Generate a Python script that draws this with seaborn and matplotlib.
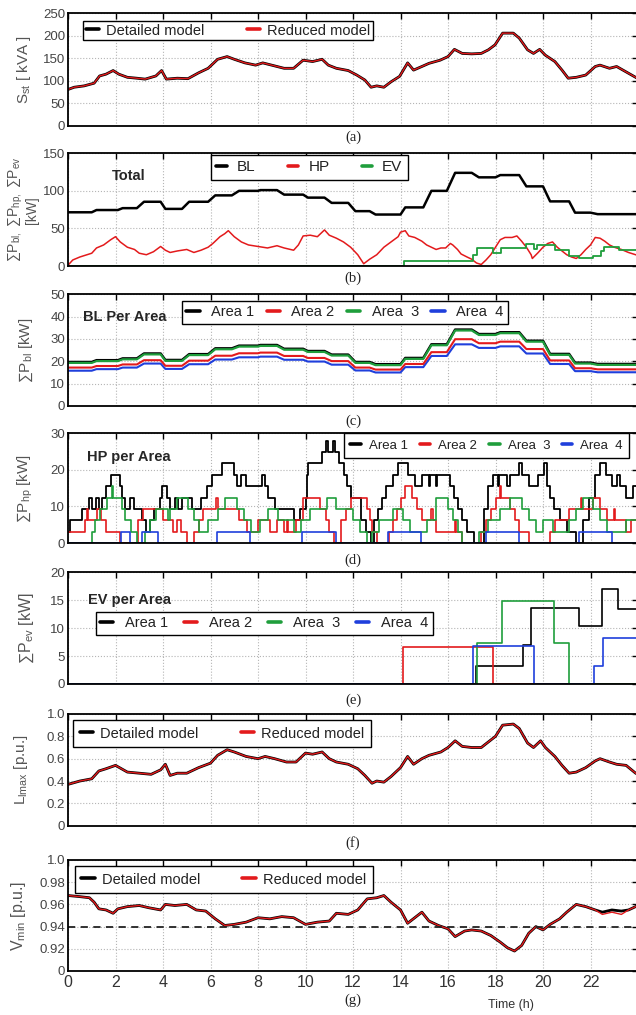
import matplotlib
matplotlib.use("Agg")
import matplotlib.pyplot as plt
import seaborn as sns
from matplotlib.lines import Line2D

# ---------------------------------------------------------------- data
hours_ticks = [0, 2, 4, 6, 8, 10, 12, 14, 16, 18, 20, 22, 24]
hours_labels = ["0", "2", "4", "6", "8", "10", "12", "14", "16", "18", "20", "22", ""]

# (a) substation apparent power [kVA]
s_t = [0, 0.26, 0.68, 1.1, 1.33, 1.6, 1.9, 2.14, 2.5, 2.9,
       3.25, 3.7, 3.94, 4.14, 4.6, 5.05, 5.5, 5.9, 6.3, 6.7,
       7.0, 7.45, 7.9, 8.2, 8.65, 9.1, 9.5, 9.9, 10.3, 10.7,
       10.96, 11.3, 11.8, 12.16, 12.5, 12.76, 13.0, 13.3, 13.6, 13.96,
       14.3, 14.55, 14.9, 15.2, 15.67, 16.0, 16.27, 16.6, 17.0, 17.4,
       17.7, 17.98, 18.3, 18.75, 19.0, 19.35, 19.6, 19.86, 20.1, 20.5,
       20.8, 21.06, 21.4, 21.8, 22.2, 22.4, 22.8, 23.1, 23.5, 23.9, 24.0]
s_reduced = [81, 86, 89, 95, 111, 115, 123, 115, 108, 106,
             104, 111, 123, 104, 106, 105, 118, 128, 148, 154,
             148, 140, 135, 140, 134, 128, 128, 146, 143, 148,
             135, 128, 123, 113, 102, 86, 89, 86, 98, 110,
             140, 124, 132, 139, 146, 154, 170, 161, 160, 161,
             169, 180, 206, 206, 195, 169, 161, 170, 157, 143,
             124, 106, 108, 113, 132, 135, 128, 132, 120, 108, 105]
s_detailed = [81, 86, 89, 95, 111, 115, 123, 115, 108, 106,
              104, 111, 123, 104, 106, 105, 118, 128, 148, 154,
              148, 140, 135, 140, 134, 128, 128, 146, 143, 148,
              135, 128, 123, 113, 102, 86, 89, 86, 98, 110,
              140, 124, 132, 139, 146, 154, 170, 161, 160, 161,
              169, 180, 206, 206, 195, 169, 161, 170, 157, 143,
              124, 106, 108, 113, 132, 135, 128, 132, 120, 108, 105]

# (b) totals [kW]
bl_seg_start = [0, 1.2, 2.3, 3.2, 4.1, 5.1, 6.2, 7.2, 8.1, 9.1, 10.1, 11.1,
                12.1, 12.95, 14.2, 15.3, 16.3, 17.3, 18.2, 19.3, 20.3, 21.35, 22.3]
bl_seg_end = [1.0, 2.1, 2.9, 3.9, 4.8, 5.9, 6.9, 8.0, 8.8, 9.9, 10.8, 11.8,
              12.7, 14.0, 14.96, 15.95, 17.0, 18.0, 19.0, 20.0, 21.1, 22.0, 24.0]
bl_total = [71.5, 74.5, 77, 85.5, 76, 85.5, 94, 100, 101, 95, 91, 84,
            73, 68.5, 78, 100, 124, 118, 121, 106, 86, 71, 69]

hp_t = [0, 0.2, 0.5, 0.8, 1.0, 1.2, 1.5, 1.8, 2.0, 2.2,
        2.5, 2.8, 3.0, 3.3, 3.6, 3.9, 4.1, 4.3, 4.6, 5.0,
        5.3, 5.6, 5.9, 6.1, 6.4, 6.6, 6.75, 7.0, 7.3, 7.6,
        8.0, 8.4, 8.8, 9.1, 9.5, 9.7, 9.9, 10.2, 10.5, 10.8,
        11.0, 11.3, 11.6, 11.9, 12.2, 12.45, 12.7, 13.0, 13.3, 13.6,
        13.9, 14.0, 14.2, 14.35, 14.6, 14.9, 15.1, 15.3, 15.5, 15.7,
        15.9, 16.1, 16.2, 16.4, 16.55, 16.8, 17.0, 17.2, 17.4, 17.6,
        17.8, 18.0, 18.2, 18.4, 18.7, 18.9, 19.1, 19.3, 19.5, 19.55,
        19.8, 20.0, 20.2, 20.4, 20.6, 20.8, 21.0, 21.2, 21.4, 21.6,
        21.8, 22.0, 22.2, 22.4, 22.6, 22.8, 23.0, 23.3, 23.6, 23.9, 24.0]
hp_total = [1, 8, 12, 15, 17, 24, 28, 35, 39, 32,
            25, 22, 17, 15, 19, 26, 21, 18, 20, 22,
            18, 21, 25, 30, 39, 43, 47, 39, 32, 28,
            26, 24, 27, 24, 21, 28, 40, 41, 39, 48,
            41, 37, 32, 25, 15, 3, 9, 15, 25, 32,
            39, 45, 47, 40, 38, 33, 28, 25, 22, 24,
            24, 30, 28, 22, 16, 12, 9, 4, 2, 8,
            15, 25, 35, 38, 38, 40, 33, 25, 15, 10,
            18, 25, 30, 32, 25, 20, 15, 12, 10, 15,
            22, 28, 38, 37, 33, 28, 25, 22, 18, 15, 14]

ev_t = [0, 14.15, 17.07, 17.2, 17.9, 18.25, 19.3, 19.6, 19.75, 20.5,
        21.1, 21.5, 22.1, 22.45, 22.55, 23.2, 24]
ev_total = [0, 7, 14, 24.3, 17.5, 24.5, 29, 22, 28.5, 21,
            13.6, 10.3, 13.6, 20.5, 25, 21.5, 21.5]

# (c) base load per area [kW] (levels per segment above)
bl_area1 = [19.7, 20.5, 21.3, 23.5, 20.6, 23.2, 25.8, 27.0, 27.3, 25.6, 24.6, 23.0,
            19.7, 18.7, 21.5, 27.6, 34.2, 32.2, 33.0, 29.2, 23.3, 19.4, 18.8]
bl_area2 = [17.2, 17.9, 18.6, 20.5, 18.0, 20.3, 22.5, 23.6, 23.9, 22.4, 21.5, 20.1,
            17.2, 16.3, 18.8, 24.1, 29.9, 28.1, 28.8, 25.5, 20.4, 16.9, 16.4]
bl_area3 = [19.3, 20.1, 20.9, 23.1, 20.2, 22.8, 25.4, 26.6, 26.9, 25.2, 24.2, 22.6,
            19.3, 18.3, 21.1, 27.2, 33.8, 31.8, 32.6, 28.8, 22.9, 19.0, 18.4]
bl_area4 = [15.8, 16.5, 17.2, 19.0, 16.6, 18.7, 20.8, 21.8, 22.1, 20.7, 19.9, 18.5,
            15.9, 15.0, 17.4, 22.4, 27.6, 26.0, 26.7, 23.5, 18.8, 15.6, 15.1]

# (d) heat pumps per area [kW] (step changes)
hp1_t = [0, 0.1, 0.58, 0.9, 1.02, 1.16, 1.3, 1.45, 1.6, 1.8, 2.19, 2.26, 2.4, 2.6, 2.78,
         3.1, 3.3, 3.45, 3.6, 3.87, 3.95, 4.15, 4.3, 4.5, 4.65, 4.8, 5.2, 5.6, 5.84, 6.05,
         6.5, 7.0, 7.1, 7.3, 7.5, 8.15, 8.3, 8.4, 8.7, 9.5, 9.75, 10.0, 10.05, 10.1, 10.7,
         10.85, 10.95, 11.15, 11.25, 11.4, 11.6, 11.75, 11.9, 12.35, 12.55, 12.75, 12.9,
         13.05, 13.2, 13.4, 13.67, 13.9, 14.3, 14.6, 14.9, 15.2, 15.25, 15.5, 15.55, 16.1,
         16.25, 16.4, 16.6, 16.8, 17.1, 17.5, 17.7, 17.9, 18.1, 18.15, 18.5, 18.6, 19.0,
         19.1, 19.4, 19.8, 20.05, 20.15, 20.3, 20.45, 20.7, 21.0, 21.4, 21.7, 21.95, 22.2,
         22.4, 22.65, 22.9, 23.1, 23.25, 23.5, 23.8, 24]
hp1 = [3.1, 6.2, 9.3, 12.4, 9.3, 12.4, 9.3, 12.4, 15.5, 18.6, 15.5, 12.4, 9.3, 12.4, 9.3,
       6.2, 3.1, 6.2, 9.3, 12.4, 15.5, 12.4, 9.3, 12.4, 9.3, 12.4, 9.3, 12.4, 15.5, 18.6,
       21.7, 18.6, 15.5, 18.6, 15.5, 18.6, 15.5, 12.4, 9.3, 6.2, 9.3, 12.4, 18.6, 21.7, 24.8,
       27.9, 24.8, 27.9, 24.8, 21.7, 18.6, 15.5, 12.4, 6.2, 3.1, 0, 6.2,
       9.3, 12.4, 15.5, 18.6, 21.7, 18.6, 15.5, 18.6, 15.5, 18.6, 15.5, 18.6, 15.5,
       12.4, 9.3, 6.2, 3.1, 0, 9.3, 15.5, 18.6, 15.5, 18.6, 15.5, 18.6, 21.7,
       18.6, 15.5, 18.6, 21.7, 15.5, 12.4, 9.3, 6.2, 3.1, 0, 6.2, 12.4, 18.6,
       21.7, 18.6, 15.5, 18.6, 15.5, 12.4, 15.5, 15.5]
hp2_t = [0, 0.7, 0.8, 0.85, 1.2, 1.4, 1.6, 2.2, 2.95, 3.15, 4.0, 4.4, 4.6, 4.75, 5.0,
         5.3, 5.5, 5.7, 6.25, 6.3, 7.2, 7.55, 8.0, 8.5, 8.8, 9.1, 9.2, 9.25, 9.6, 9.9,
         10.6, 10.85, 11.0, 11.2, 11.5, 11.7, 11.9, 12.6, 12.7, 12.8, 13.0, 13.5, 13.7,
         13.85, 14.0, 14.2, 14.5, 14.7, 14.9, 15.3, 15.35, 15.5, 16.3, 16.35, 16.6, 17.4,
         17.6, 17.8, 18.0, 18.2, 18.25, 18.6, 18.8, 19.0, 19.4, 20.3, 20.5, 21.1, 21.6,
         21.65, 22.1, 22.4, 22.7, 23.0, 23.05, 23.5, 23.7, 24]
hp2 = [3.1, 6.2, 9.3, 6.2, 9.3, 6.2, 3.1, 0, 6.2, 9.3, 6.2, 3.1, 6.2, 3.1, 0,
       3.1, 6.2, 9.3, 12.4, 9.3, 6.2, 3.1, 6.2, 3.1, 6.2, 3.1, 6.2, 3.1, 6.2, 12.4,
       9.3, 6.2, 3.1, 0, 6.2, 9.3, 12.4, 9.3, 6.2, 3.1, 0, 3.1, 6.2,
       9.3, 12.4, 15.5, 12.4, 9.3, 6.2, 9.3, 6.2, 3.1, 6.2, 3.1, 0, 3.1,
       6.2, 9.3, 12.4, 15.5, 12.4, 9.3, 6.2, 3.1, 0, 3.1, 6.2, 9.3, 12.4,
       9.3, 12.4, 9.3, 6.2, 9.3, 6.2, 3.1, 6.2, 6.2]
hp3_t = [0, 1.0, 1.15, 1.35, 1.63, 1.85, 1.9, 2.26, 2.4, 2.65, 2.9, 3.24, 3.45, 3.7, 4.2,
         4.3, 4.6, 5.07, 5.3, 5.5, 5.9, 6.3, 6.6, 7.1, 7.4, 7.7, 8.1, 8.4, 8.86, 9.5,
         9.8, 10.2, 10.9, 11.3, 12.0, 12.3, 12.6, 12.8, 13.1, 13.67, 14.1, 14.4, 15.1,
         15.5, 16.0, 16.2, 16.4, 16.6, 17.3, 17.7, 18.2, 18.6, 19.1, 19.4, 19.7, 20.0,
         20.4, 21.1, 21.4, 21.7, 22.1, 22.4, 22.7, 23.5, 24]
hp3 = [0, 3.1, 6.2, 9.3, 12.4, 15.5, 12.4, 9.3, 6.2, 3.1, 0, 3.1, 6.2, 9.3, 6.2,
       9.3, 12.4, 9.3, 6.2, 3.1, 6.2, 9.3, 12.4, 9.3, 6.2, 3.1, 6.2, 9.3, 6.2, 3.1,
       6.2, 9.3, 12.4, 9.3, 6.2, 3.1, 0, 3.1, 6.2, 9.3, 6.2, 3.1, 6.2,
       12.4, 9.3, 6.2, 3.1, 0, 3.1, 6.2, 9.3, 12.4, 9.3, 6.2, 3.1, 6.2,
       3.1, 6.2, 9.3, 12.4, 9.3, 6.2, 3.1, 6.2, 6.2]
hp4_t = [0, 2.25, 2.6, 3.1, 3.8, 6.26, 7.66, 9.84, 11.3, 13.46, 14.87, 17.6, 19.0, 21.5, 22.9, 24]
hp4 = [0, 3.1, 0, 3.1, 0, 3.1, 0, 3.1, 0, 3.1, 0, 3.1, 0, 3.1, 0, 0]

# (e) EV charging per area [kW]
ev1_t = [0, 17.18, 19.15, 19.5, 21.5, 22.48, 23.16, 24]
ev1 = [0, 3.3, 7.0, 13.6, 10.3, 17.0, 13.5, 13.5]
ev2_t = [0, 14.1, 17.9, 24]
ev2 = [0, 6.7, 0, 0]
ev3_t = [0, 17.23, 18.26, 20.48, 21.1, 24]
ev3 = [0, 7.3, 14.8, 7.3, 0, 0]
ev4_t = [0, 17.06, 19.62, 22.14, 22.53, 24]
ev4 = [0, 6.8, 0, 3.3, 8.2, 8.2]

# (f) maximum line loading [p.u.]
l_t = [0, 0.5, 1.0, 1.3, 1.6, 2.0, 2.5, 3.0, 3.5, 3.9,
       4.1, 4.3, 4.6, 5.0, 5.5, 6.0, 6.3, 6.7, 7.0, 7.5,
       8.0, 8.3, 8.7, 9.2, 9.6, 10.0, 10.3, 10.7, 11.0, 11.3,
       11.8, 12.2, 12.5, 12.8, 13.0, 13.3, 13.6, 14.0, 14.3, 14.55,
       14.9, 15.2, 15.7, 16.0, 16.3, 16.6, 17.0, 17.4, 17.7, 18.0,
       18.3, 18.75, 19.0, 19.35, 19.6, 19.9, 20.1, 20.5, 20.8, 21.1,
       21.4, 21.8, 22.2, 22.4, 22.8, 23.1, 23.5, 23.9, 24.0]
l_reduced = [0.37, 0.40, 0.42, 0.49, 0.51, 0.54, 0.48, 0.47, 0.46, 0.50,
             0.55, 0.45, 0.47, 0.47, 0.52, 0.56, 0.63, 0.68, 0.66, 0.62,
             0.60, 0.62, 0.60, 0.57, 0.57, 0.65, 0.64, 0.66, 0.60, 0.57,
             0.55, 0.51, 0.45, 0.38, 0.40, 0.39, 0.44, 0.52, 0.62, 0.55,
             0.60, 0.63, 0.66, 0.70, 0.76, 0.71, 0.70, 0.70, 0.75, 0.80,
             0.90, 0.91, 0.87, 0.74, 0.70, 0.76, 0.70, 0.62, 0.54, 0.47,
             0.48, 0.52, 0.58, 0.60, 0.57, 0.55, 0.54, 0.47, 0.46]
l_detailed = [0.37, 0.40, 0.42, 0.49, 0.51, 0.54, 0.48, 0.47, 0.46, 0.50,
              0.55, 0.45, 0.47, 0.47, 0.52, 0.56, 0.63, 0.68, 0.66, 0.62,
              0.60, 0.62, 0.60, 0.57, 0.57, 0.65, 0.64, 0.66, 0.60, 0.57,
              0.55, 0.51, 0.45, 0.38, 0.40, 0.39, 0.44, 0.52, 0.62, 0.55,
              0.60, 0.63, 0.66, 0.70, 0.76, 0.71, 0.70, 0.70, 0.75, 0.80,
              0.90, 0.91, 0.87, 0.74, 0.70, 0.76, 0.70, 0.62, 0.54, 0.47,
              0.48, 0.52, 0.58, 0.60, 0.57, 0.55, 0.54, 0.47, 0.46]

# (g) minimum voltage [p.u.]
v_t = [0, 0.5, 0.9, 1.1, 1.3, 1.6, 1.9, 2.1, 2.5, 3.0,
       3.4, 3.9, 4.1, 4.5, 5.0, 5.4, 5.8, 6.2, 6.6, 7.0,
       7.5, 8.0, 8.5, 9.0, 9.5, 10.0, 10.5, 11.0, 11.3, 11.8,
       12.2, 12.6, 13.0, 13.3, 13.6, 14.0, 14.3, 14.6, 14.9, 15.2,
       15.6, 16.0, 16.3, 16.7, 17.0, 17.4, 17.8, 18.2, 18.5, 18.8,
       19.1, 19.4, 19.7, 20.0, 20.3, 20.7, 21.0, 21.4, 21.8, 22.2,
       22.5, 22.9, 23.3, 23.6, 23.9, 24.0]
v_reduced = [0.968, 0.967, 0.966, 0.962, 0.956, 0.955, 0.952, 0.956, 0.958, 0.959,
             0.957, 0.955, 0.960, 0.959, 0.960, 0.955, 0.954, 0.947, 0.941, 0.942,
             0.944, 0.948, 0.947, 0.949, 0.948, 0.942, 0.944, 0.945, 0.952, 0.951,
             0.955, 0.965, 0.966, 0.968, 0.962, 0.955, 0.943, 0.948, 0.953, 0.945,
             0.941, 0.938, 0.931, 0.936, 0.937, 0.936, 0.932, 0.926, 0.921, 0.918,
             0.923, 0.934, 0.940, 0.937, 0.942, 0.947, 0.953, 0.960, 0.958, 0.955,
             0.951, 0.953, 0.951, 0.955, 0.958, 0.959]
v_detailed = [0.968, 0.967, 0.966, 0.962, 0.956, 0.955, 0.952, 0.956, 0.958, 0.959,
              0.957, 0.955, 0.960, 0.959, 0.960, 0.955, 0.954, 0.947, 0.941, 0.942,
              0.944, 0.948, 0.947, 0.949, 0.948, 0.942, 0.944, 0.945, 0.952, 0.951,
              0.955, 0.965, 0.966, 0.968, 0.962, 0.955, 0.943, 0.948, 0.953, 0.945,
              0.941, 0.938, 0.931, 0.936, 0.937, 0.936, 0.932, 0.926, 0.921, 0.918,
              0.923, 0.934, 0.940, 0.937, 0.942, 0.947, 0.953, 0.960, 0.958, 0.955,
              0.953, 0.955, 0.954, 0.955, 0.958, 0.959]
v_limit = 0.94
v_ticks = [0.90, 0.92, 0.94, 0.96, 0.98, 1.00]
v_tick_labels = ["0", "0.92", "0.94", "0.96", "0.98", "1.0"]

model_labels = ["Detailed model", "Reduced model"]
area_labels = ["Area 1", "Area 2", "Area  3", "Area  4"]
total_labels = ["BL", "HP", "EV"]

# ---------------------------------------------------------------- style
sns.set_theme(style="white")
plt.rcParams["font.family"] = ["Liberation Sans", "DejaVu Sans"]
plt.rcParams["mathtext.fontset"] = "custom"
plt.rcParams["mathtext.rm"] = "Liberation Sans"
plt.rcParams["mathtext.it"] = "Liberation Sans:italic"
plt.rcParams["mathtext.bf"] = "Liberation Sans:bold"
plt.rcParams["mathtext.default"] = "regular"

BLACK = "#000000"
RED = "#e31a1c"
GREEN = "#1f9e3c"
BLUE = "#1f3fdc"
LABC = "#555555"
TICKC = "#444444"

W, H = 636.0, 1015.0
fig = plt.figure(figsize=(6.36, 10.15), dpi=100)


def make_axes(top, bottom):
    return fig.add_axes([68 / W, 1 - bottom / H, 570 / W, (bottom - top) / H])


def style(ax, ylim, yticks, ylabels, ylabel, lab_x, lab_fs=11, bottom=False):
    ax.set_xlim(0, 24)
    ax.set_xticks(hours_ticks)
    if bottom:
        ax.set_xticklabels(hours_labels, fontsize=11.5, color="#333333")
    else:
        ax.set_xticklabels([])
    ax.set_ylim(*ylim)
    ax.set_yticks(yticks)
    ax.set_yticklabels(ylabels, fontsize=9.5, color=TICKC)
    ax.tick_params(axis="both", direction="in", top=True, right=True,
                   length=4, width=1, color="black", pad=2)
    ax.tick_params(axis="x", pad=3)
    ax.grid(True, ls=":", color="#b5b5b5", lw=0.8)
    for sp in ax.spines.values():
        sp.set_linewidth(1.3)
        sp.set_color("black")
        sp.set_visible(True)
    ax.set_xlabel("")
    ax.set_ylabel(ylabel, fontsize=lab_fs, color=LABC, linespacing=1.05)
    ax.yaxis.set_label_coords(lab_x, 0.5)


def legend(ax, colors, labels, anchor, fs, colsp, bpad, tpad=0.6, hlen=0.9):
    handles = [Line2D([], [], color=c, lw=2.6) for c in colors]
    leg = ax.legend(handles, labels, loc="upper left", bbox_to_anchor=anchor,
                    ncol=len(labels), frameon=True, fancybox=False,
                    edgecolor="black", framealpha=1, fontsize=fs,
                    handlelength=hlen, handletextpad=tpad, columnspacing=colsp,
                    borderpad=bpad, borderaxespad=0)
    leg.get_frame().set_linewidth(1.0)
    for t in leg.get_texts():
        t.set_color("#222222")
    return leg


def line(ax, x, y, color, lw, steps=False):
    kw = dict(drawstyle="steps-post") if steps else {}
    sns.lineplot(x=x, y=y, ax=ax, color=color, linewidth=lw, estimator=None,
                 sort=False, legend=False, **kw)


def seg_xy(levels):
    xs, ys = [], []
    for s, e, lv in zip(bl_seg_start, bl_seg_end, levels):
        xs += [s, e]
        ys += [lv, lv]
    return xs, ys


# (a)
ax = make_axes(13.3, 126)
line(ax, s_t, s_detailed, BLACK, 2.0)
line(ax, s_t, s_reduced, RED, 1.0)
style(ax, (0, 250), [0, 50, 100, 150, 200, 250], ["0", "50", "100", "150", "200", "250"],
      "S$_{st}$ [ kVA ]", -0.062)
legend(ax, [BLACK, RED], model_labels, (0.026, 0.935), 10.5, 2.9, 0.2, tpad=0.5)

# (b)
ax = make_axes(153.3, 266)
xs, ys = seg_xy(bl_total)
line(ax, xs, ys, BLACK, 1.8)
line(ax, hp_t, hp_total, RED, 1.1)
line(ax, ev_t, ev_total, GREEN, 1.3, steps=True)
style(ax, (0, 150), [0, 50, 100, 150], ["0", "50", "100", "150"],
      "∑P$_{bl,}$ ∑P$_{hp,}$ ∑P$_{ev}$\n[kW]", -0.05, lab_fs=10)
legend(ax, [BLACK, RED, GREEN], total_labels, (0.251, 0.985), 11, 2.1, 0.35, tpad=0.65, hlen=0.7)
fig.text(112 / W, 1 - 176 / H, "Total", fontsize=10.5, fontweight="bold", va="center", ha="left")

# (c)
ax = make_axes(294.3, 406)
for lv, c, lw in [(bl_area4, BLUE, 1.5), (bl_area2, RED, 1.5), (bl_area1, BLACK, 1.8), (bl_area3, GREEN, 1.6)]:
    xs, ys = seg_xy(lv)
    line(ax, xs, ys, c, lw)
style(ax, (0, 50), [0, 10, 20, 30, 40, 50], ["0", "10", "20", "30", "40", "50"],
      "∑P$_{bl}$ [kW]", -0.058)
legend(ax, [BLACK, RED, GREEN, BLUE], area_labels, (0.2, 0.94), 10.5, 0.85, 0.3, tpad=0.8, hlen=0.9)
fig.text(83 / W, 1 - 317 / H, "BL Per Area", fontsize=10.5, fontweight="bold", va="center", ha="left")

# (d)
ax = make_axes(433, 543)
line(ax, hp1_t, hp1, BLACK, 1.3, steps=True)
line(ax, hp2_t, hp2, RED, 1.2, steps=True)
line(ax, hp3_t, hp3, GREEN, 1.2, steps=True)
line(ax, hp4_t, hp4, BLUE, 1.2, steps=True)
style(ax, (0, 30), [0, 10, 20, 30], ["0", "10", "20", "30"],
      "∑P$_{hp}$ [kW]", -0.058)
legend(ax, [BLACK, RED, GREEN, BLUE], area_labels, (0.484, 1.0), 9.5, 0.9, 0.5, tpad=0.6, hlen=0.8)
fig.text(87 / W, 1 - 457 / H, "HP per Area", fontsize=10.5, fontweight="bold", va="center", ha="left")

# (e)
ax = make_axes(572.3, 684)
line(ax, ev1_t, ev1, BLACK, 1.2, steps=True)
line(ax, ev2_t, ev2, RED, 1.2, steps=True)
line(ax, ev3_t, ev3, GREEN, 1.2, steps=True)
line(ax, ev4_t, ev4, BLUE, 1.2, steps=True)
style(ax, (0, 20), [0, 5, 10, 15, 20], ["0", "5", "10", "15", "20"],
      "∑P$_{ev}$ [kW]", -0.056, lab_fs=11.5)
legend(ax, [BLACK, RED, GREEN, BLUE], area_labels, (0.049, 0.645), 10.5, 1.1, 0.3, tpad=0.8, hlen=0.9)
fig.text(88 / W, 1 - 600 / H, "EV per Area", fontsize=10.5, fontweight="bold", va="center", ha="left")

# (f)
ax = make_axes(714, 825.7)
line(ax, l_t, l_detailed, BLACK, 2.0)
line(ax, l_t, l_reduced, RED, 1.0)
style(ax, (0, 1.0), [0, 0.2, 0.4, 0.6, 0.8, 1.0], ["0", "0.2", "0.4", "0.6", "0.8", "1.0"],
      "L$_{lmax}$ [p.u.]", -0.066)
legend(ax, [BLACK, RED], model_labels, (0.009, 0.946), 10.5, 2.9, 0.45, tpad=0.5)

# (g)
ax = make_axes(860, 971)
line(ax, v_t, v_detailed, BLACK, 2.0)
line(ax, v_t, v_reduced, RED, 1.0)
ax.axhline(v_limit, color="#222222", ls=(0, (4, 3)), lw=1.3)
style(ax, (0.90, 1.00), v_ticks, v_tick_labels, "V$_{min}$ [p.u.]", -0.07, lab_fs=11.5, bottom=True)
legend(ax, [BLACK, RED], model_labels, (0.012, 0.946), 10.5, 2.9, 0.45, tpad=0.5)

# panel captions
for lab, y in [("(a)", 137), ("(b)", 278), ("(c)", 421), ("(d)", 560),
               ("(e)", 700), ("(f)", 843), ("(g)", 1000)]:
    fig.text(353 / W, 1 - y / H, lab, fontsize=10.5, family="Liberation Serif",
             ha="center", va="center", color="#222222")
fig.text(511 / W, 1 - 1005 / H, "Time (h)", fontsize=9, ha="center", va="center", color="#333333")

fig.savefig("out.png", dpi=100)
